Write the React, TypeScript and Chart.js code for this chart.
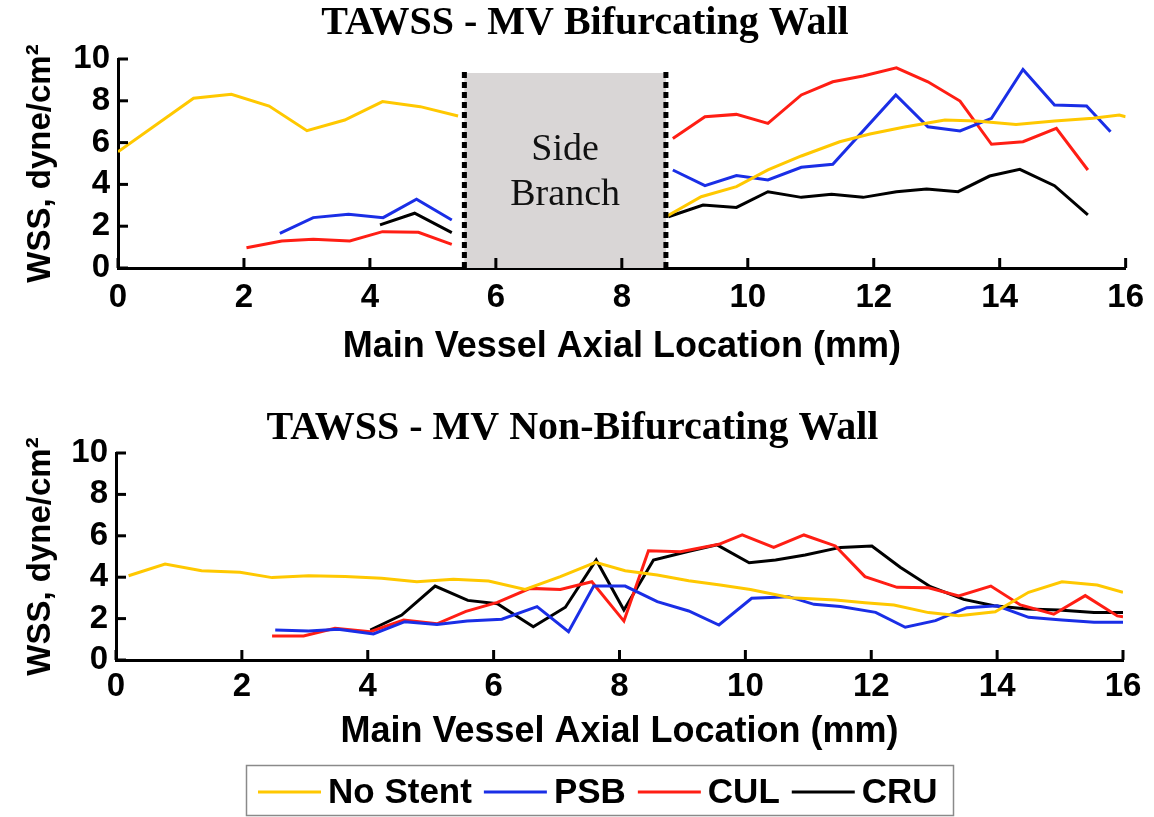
import React, { useEffect, useRef } from "react";
import { Chart, registerables } from "chart.js";

Chart.register(...registerables);

// ---------- shared ----------
const seriesLabels = ["No Stent", "PSB", "CUL", "CRU"];
const seriesColors = ["#ffc800", "#1a2ee6", "#ff1e14", "#000000"];
const xTickValues = [0, 2, 4, 6, 8, 10, 12, 14, 16];
const yTickValues = [0, 2, 4, 6, 8, 10];
const topTitle = "TAWSS - MV Bifurcating Wall";
const bottomTitle = "TAWSS - MV Non-Bifurcating Wall";
const xAxisTitle = "Main Vessel Axial Location (mm)";
const yAxisTitle = "WSS, dyne/cm\u00B2";
const sideBranchText = ["Side", "Branch"];
const sideBranchStart = 5.5;
const sideBranchEnd = 8.7;
const sideBranchTop = 9.33;

// ---------- top panel: bifurcating wall ----------
const topNoStentX = [0, 1.2, 1.8, 2.4, 3.0, 3.6, 4.2, 4.8, 5.4, 7.1, 8.72, 9.26, 9.82, 10.32, 10.85, 11.46, 11.94, 12.47, 13.13, 13.63, 14.26, 14.87, 15.48, 15.9, 16.0];
const topNoStentY = [5.56, 8.12, 8.31, 7.75, 6.57, 7.08, 7.96, 7.72, 7.27, null, 2.49, 3.41, 3.89, 4.69, 5.36, 6.04, 6.41, 6.73, 7.08, 7.03, 6.87, 7.03, 7.16, 7.32, 7.24];

const topPSBX = [2.57, 3.1, 3.66, 4.21, 4.74, 5.3, 7.1, 8.81, 9.32, 9.82, 10.32, 10.85, 11.35, 12.35, 12.86, 13.37, 13.87, 14.37, 14.87, 15.38, 15.76];
const topPSBY = [1.66, 2.41, 2.57, 2.41, 3.29, 2.3, null, 4.69, 3.94, 4.42, 4.21, 4.82, 4.96, 8.28, 6.76, 6.56, 7.16, 9.5, 7.8, 7.75, 6.52];

const topCULX = [2.04, 2.6, 3.1, 3.68, 4.2, 4.77, 5.3, 7.1, 8.81, 9.32, 9.82, 10.32, 10.85, 11.35, 11.83, 12.36, 12.86, 13.37, 13.87, 14.37, 14.9, 15.4];
const topCULY = [0.97, 1.29, 1.37, 1.29, 1.74, 1.71, 1.13, null, 6.2, 7.24, 7.35, 6.92, 8.28, 8.91, 9.19, 9.58, 8.91, 7.99, 5.92, 6.04, 6.68, 4.69];

const topCRUX = [4.16, 4.71, 5.3, 7.1, 8.74, 9.29, 9.82, 10.32, 10.85, 11.33, 11.83, 12.36, 12.84, 13.34, 13.84, 14.32, 14.87, 15.4];
const topCRUY = [2.06, 2.62, 1.69, null, 2.45, 3.01, 2.9, 3.65, 3.38, 3.53, 3.38, 3.65, 3.78, 3.65, 4.4, 4.72, 3.94, 2.54];

// ---------- bottom panel: non-bifurcating wall ----------
const botNoStentX = [0.2, 0.78, 1.36, 1.97, 2.48, 3.06, 3.64, 4.22, 4.78, 5.36, 5.92, 6.5, 7.06, 7.62, 8.09, 8.6, 9.1, 9.6, 10.08, 10.72, 11.43, 11.9, 12.36, 12.91, 13.39, 13.97, 14.5, 15.03, 15.59, 16.0];
const botNoStentY = [4.07, 4.64, 4.31, 4.24, 3.98, 4.07, 4.03, 3.95, 3.78, 3.9, 3.82, 3.41, 4.03, 4.72, 4.31, 4.11, 3.83, 3.62, 3.41, 3.01, 2.9, 2.77, 2.66, 2.29, 2.14, 2.33, 3.27, 3.78, 3.62, 3.27];

const botPSBX = [2.53, 3.06, 3.53, 4.09, 4.59, 5.1, 5.58, 6.13, 6.69, 7.19, 7.59, 8.09, 8.6, 9.1, 9.58, 10.1, 10.69, 11.09, 11.51, 12.07, 12.54, 13.02, 13.52, 14.0, 14.5, 15.03, 15.54, 16.0];
const botPSBY = [1.45, 1.4, 1.48, 1.26, 1.85, 1.72, 1.88, 1.97, 2.58, 1.37, 3.57, 3.57, 2.82, 2.37, 1.69, 2.98, 3.06, 2.69, 2.58, 2.3, 1.58, 1.9, 2.53, 2.62, 2.06, 1.93, 1.82, 1.82];

const botCULX = [2.48, 2.98, 3.48, 4.04, 4.57, 5.1, 5.56, 6.06, 6.58, 7.06, 7.56, 8.07, 8.46, 8.97, 9.58, 9.95, 10.45, 10.93, 11.43, 11.9, 12.41, 12.91, 13.39, 13.9, 14.37, 14.9, 15.4, 15.91, 16.0];
const botCULY = [1.16, 1.16, 1.53, 1.37, 1.93, 1.75, 2.35, 2.78, 3.46, 3.41, 3.78, 1.88, 5.28, 5.23, 5.59, 6.04, 5.44, 6.04, 5.51, 4.03, 3.51, 3.49, 3.09, 3.57, 2.66, 2.21, 3.11, 2.13, 2.09];

const botCRUX = [4.04, 4.54, 5.07, 5.59, 6.06, 6.63, 7.14, 7.63, 8.07, 8.54, 9.07, 9.55, 10.06, 10.48, 10.95, 11.51, 12.01, 12.46, 12.94, 13.47, 13.95, 14.48, 14.98, 15.54, 16.0];
const botCRUY = [1.45, 2.17, 3.57, 2.88, 2.72, 1.61, 2.55, 4.83, 2.42, 4.83, 5.23, 5.56, 4.7, 4.83, 5.07, 5.44, 5.51, 4.48, 3.54, 2.93, 2.62, 2.46, 2.42, 2.29, 2.3];

// ---------- helpers ----------
const SANS = '"Liberation Sans", Arial, Helvetica, sans-serif';
const SERIF = '"Liberation Serif", "Times New Roman", serif';

function pts(xs: number[], ys: (number | null)[]) {
  return xs.map((x, i) => ({ x, y: ys[i] }));
}

function makeDatasets(series: [number[], (number | null)[]][]) {
  return series.map(([xs, ys], i) => ({
    label: seriesLabels[i],
    data: pts(xs, ys),
    borderColor: seriesColors[i],
    backgroundColor: seriesColors[i],
    borderWidth: 3,
    pointRadius: 0,
    tension: 0,
    fill: false,
    spanGaps: false,
  }));
}

function shiftTitle(dx: number) {
  return {
    id: "shiftTitle",
    afterLayout(chart: any) {
      const t = chart.titleBlock;
      if (t) {
        t.left += dx;
        t.right += dx;
      }
    },
  };
}

const inwardTicks = {
  id: "inwardTicks",
  afterDatasetsDraw(chart: any) {
    const { ctx, scales, chartArea } = chart;
    const xs = scales.x;
    const ys = scales.y;
    ctx.save();
    ctx.strokeStyle = "#000";
    ctx.lineWidth = 3;
    ctx.setLineDash([]);
    xs.ticks.forEach((t: any) => {
      const px = xs.getPixelForValue(t.value);
      ctx.beginPath();
      ctx.moveTo(px, chartArea.bottom);
      ctx.lineTo(px, chartArea.bottom - 10);
      ctx.stroke();
    });
    ys.ticks.forEach((t: any) => {
      const py = ys.getPixelForValue(t.value);
      ctx.beginPath();
      ctx.moveTo(chartArea.left, py);
      ctx.lineTo(chartArea.left + 10, py);
      ctx.stroke();
    });
    ctx.restore();
  },
};

const sideBranch = {
  id: "sideBranch",
  beforeDatasetsDraw(chart: any) {
    const { ctx, scales } = chart;
    const x1 = scales.x.getPixelForValue(sideBranchStart);
    const x2 = scales.x.getPixelForValue(sideBranchEnd);
    const yT = scales.y.getPixelForValue(sideBranchTop);
    const yB = scales.y.getPixelForValue(0);
    ctx.save();
    ctx.fillStyle = "#d9d6d6";
    ctx.fillRect(x1, yT, x2 - x1, yB - yT);
    ctx.fillStyle = "#111";
    ctx.font = `38px ${SERIF}`;
    ctx.textAlign = "center";
    ctx.textBaseline = "middle";
    const cx = (x1 + x2) / 2;
    const cy = scales.y.getPixelForValue(4.75);
    ctx.fillText(sideBranchText[0], cx, cy - 19);
    ctx.fillText(sideBranchText[1], cx, cy + 26);
    ctx.restore();
  },
  afterDatasetsDraw(chart: any) {
    const { ctx, scales } = chart;
    const x1 = scales.x.getPixelForValue(sideBranchStart);
    const x2 = scales.x.getPixelForValue(sideBranchEnd);
    const yT = scales.y.getPixelForValue(sideBranchTop) - 1;
    const yB = scales.y.getPixelForValue(0);
    ctx.save();
    ctx.strokeStyle = "#000";
    ctx.lineWidth = 5;
    ctx.setLineDash([6, 4]);
    [x1, x2].forEach((x) => {
      ctx.beginPath();
      ctx.moveTo(x, yT);
      ctx.lineTo(x, yB);
      ctx.stroke();
    });
    ctx.restore();
  },
};

const boxLegend = {
  id: "boxLegend",
  afterDraw(chart: any) {
    const { ctx } = chart;
    ctx.save();
    ctx.strokeStyle = "#8a8a8a";
    ctx.lineWidth = 1.5;
    ctx.strokeRect(246.5, 385.5, 707, 50);
    ctx.font = `bold 35px ${SANS}`;
    ctx.textBaseline = "middle";
    ctx.textAlign = "left";
    let x = 258;
    const y = 412;
    chart.data.datasets.forEach((ds: any) => {
      ctx.strokeStyle = ds.borderColor;
      ctx.lineWidth = 3;
      ctx.beginPath();
      ctx.moveTo(x, y);
      ctx.lineTo(x + 63, y);
      ctx.stroke();
      x += 70;
      ctx.fillStyle = "#000";
      ctx.fillText(ds.label, x, y + 1);
      x += ctx.measureText(ds.label).width + 12;
    });
    ctx.restore();
  },
};

function makeConfig(opts: {
  datasets: any[];
  title: string;
  titlePadTop: number;
  titlePadBottom: number;
  yWidth: number;
  xHeight: number;
  xTitlePad: number;
  tickPad: number;
  padRight: number;
  padBottom: number;
  plugins: any[];
}): any {
  return {
    type: "line",
    data: { datasets: opts.datasets },
    plugins: opts.plugins,
    options: {
      responsive: false,
      animation: false,
      events: [],
      layout: { padding: { left: 0, right: opts.padRight, top: 0, bottom: opts.padBottom } },
      plugins: {
        legend: { display: false },
        tooltip: { enabled: false },
        title: {
          display: true,
          text: opts.title,
          color: "#000",
          font: { family: SERIF, size: 40, weight: "bold", lineHeight: 1.2 },
          padding: { top: opts.titlePadTop, bottom: opts.titlePadBottom },
        },
      },
      scales: {
        x: {
          type: "linear",
          min: 0,
          max: 16,
          afterBuildTicks: (s: any) => {
            s.ticks = xTickValues.map((v) => ({ value: v }));
          },
          afterFit: (s: any) => {
            s.height = opts.xHeight;
          },
          grid: { display: false, drawTicks: false },
          border: { display: true, color: "#000", width: 3 },
          ticks: {
            color: "#000",
            padding: opts.tickPad,
            maxRotation: 0,
            autoSkip: false,
            font: { family: SANS, size: 33, weight: "bold" },
          },
          title: {
            display: true,
            text: xAxisTitle,
            color: "#000",
            font: { family: SANS, size: 36, weight: "bold", lineHeight: 1.2 },
            padding: { top: 0, bottom: opts.xTitlePad },
          },
        },
        y: {
          type: "linear",
          min: 0,
          max: 10,
          afterBuildTicks: (s: any) => {
            s.ticks = yTickValues.map((v) => ({ value: v }));
          },
          afterFit: (s: any) => {
            s.width = opts.yWidth;
          },
          grid: { display: false, drawTicks: false },
          border: { display: true, color: "#000", width: 3 },
          ticks: {
            color: "#000",
            padding: 8,
            autoSkip: false,
            font: { family: SANS, size: 33, weight: "bold" },
          },
          title: {
            display: true,
            text: yAxisTitle,
            color: "#000",
            font: { family: SANS, size: 33, weight: "bold", lineHeight: 1.2 },
            padding: { top: 21, bottom: 0 },
          },
        },
      },
    },
  };
}

export default function App() {
  const ref1 = useRef<HTMLCanvasElement>(null);
  const ref2 = useRef<HTMLCanvasElement>(null);

  useEffect(() => {
    const c1 = new Chart(
      ref1.current as HTMLCanvasElement,
      makeConfig({
        datasets: makeDatasets([
          [topNoStentX, topNoStentY],
          [topPSBX, topPSBY],
          [topCULX, topCULY],
          [topCRUX, topCRUY],
        ]),
        title: topTitle,
        titlePadTop: 0,
        titlePadBottom: 11,
        yWidth: 118,
        xHeight: 112,
        xTitlePad: 11,
        tickPad: 10,
        padRight: 28,
        padBottom: 0,
        plugins: [shiftTitle(22), sideBranch, inwardTicks],
      })
    );
    const c2 = new Chart(
      ref2.current as HTMLCanvasElement,
      makeConfig({
        datasets: makeDatasets([
          [botNoStentX, botNoStentY],
          [botPSBX, botPSBY],
          [botCULX, botCULY],
          [botCRUX, botCRUY],
        ]),
        title: bottomTitle,
        titlePadTop: 25,
        titlePadBottom: 0,
        yWidth: 116,
        xHeight: 95,
        xTitlePad: 1,
        tickPad: 7,
        padRight: 31,
        padBottom: 62,
        plugins: [shiftTitle(11), inwardTicks, boxLegend],
      })
    );
    return () => {
      c1.destroy();
      c2.destroy();
    };
  }, []);

  return (
    <div
      style={{
        position: "absolute",
        left: 0,
        top: 0,
        width: 1154,
        height: 817,
        background: "#fff",
        overflow: "hidden",
      }}
    >
      <canvas ref={ref1} width={1154} height={380} style={{ position: "absolute", left: 0, top: 0, display: "block" }} />
      <canvas ref={ref2} width={1154} height={437} style={{ position: "absolute", left: 0, top: 380, display: "block" }} />
    </div>
  );
}
